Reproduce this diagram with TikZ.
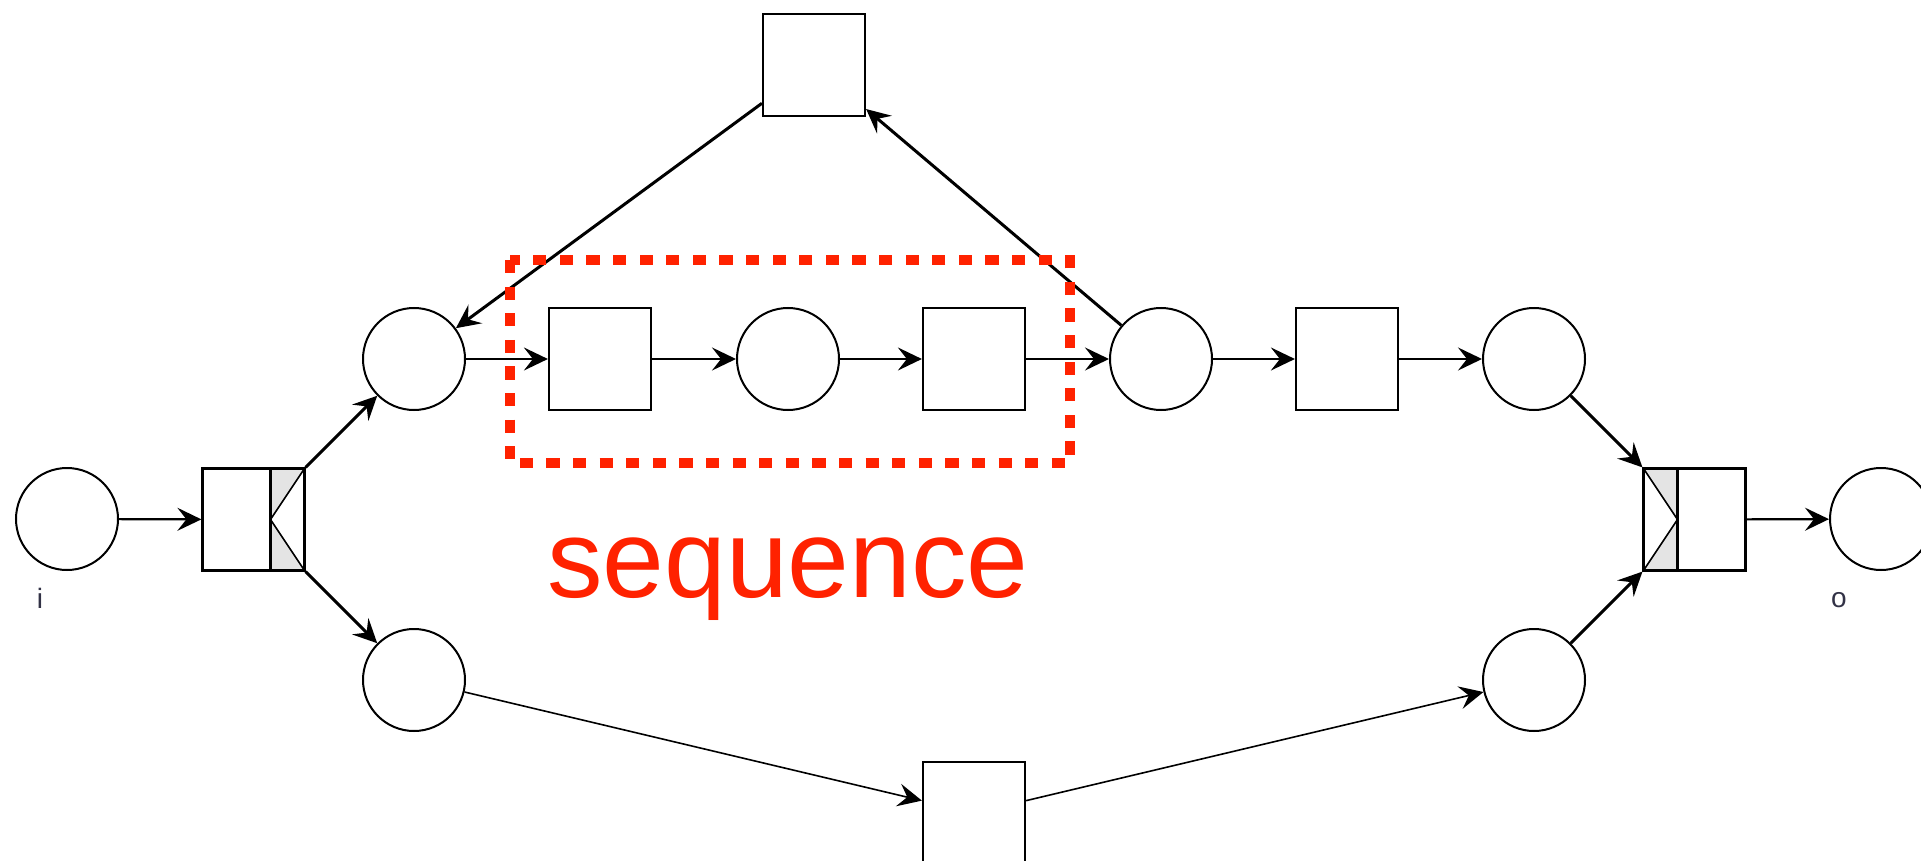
\documentclass[tikz,border=0pt]{standalone}
\usepackage{fontspec}
\setmainfont{Liberation Sans}
\usetikzlibrary{arrows.meta}
\definecolor{seqred}{RGB}{255,34,0}
\definecolor{andgray}{RGB}{228,228,228}
\definecolor{lblgray}{RGB}{50,50,70}

\begin{document}
\begin{tikzpicture}[x=0.5pt,y=-0.5pt,
  place/.style={circle,draw,line width=1pt,minimum size=51pt,inner sep=0pt},
  trans/.style={rectangle,draw,line width=1.1pt,minimum size=51pt,inner sep=0pt},
  andsplit/.style={trans,path picture={
    \fill[andgray] ([xshift=-17pt]path picture bounding box.north east) -- (path picture bounding box.north east) -- ([xshift=-17pt]path picture bounding box.east) -- cycle;
    \fill[andgray] ([xshift=-17pt]path picture bounding box.south east) -- (path picture bounding box.south east) -- ([xshift=-17pt]path picture bounding box.east) -- cycle;
    \draw[line width=1.1pt] ([xshift=-17pt]path picture bounding box.north east) -- ([xshift=-17pt]path picture bounding box.south east);
    \draw[line width=0.8pt] (path picture bounding box.north east) -- ([xshift=-17pt]path picture bounding box.east) -- (path picture bounding box.south east);}},
  andjoin/.style={trans,path picture={
    \fill[andgray] ([xshift=17pt]path picture bounding box.north west) -- (path picture bounding box.north west) -- ([xshift=17pt]path picture bounding box.west) -- cycle;
    \fill[andgray] ([xshift=17pt]path picture bounding box.south west) -- (path picture bounding box.south west) -- ([xshift=17pt]path picture bounding box.west) -- cycle;
    \draw[line width=1.1pt] ([xshift=17pt]path picture bounding box.north west) -- ([xshift=17pt]path picture bounding box.south west);
    \draw[line width=0.8pt] (path picture bounding box.north west) -- ([xshift=17pt]path picture bounding box.west) -- (path picture bounding box.south west);}},
  arc/.style={line width=1.1pt,-{Stealth[length=12pt,width=11.5pt,inset=4.5pt]}},
  heavyarc/.style={arc,line width=1.5pt},
  lightarc/.style={arc,line width=0.8pt},
  lbl/.style={text=lblgray,font=\fontsize{14pt}{16pt}\selectfont,inner sep=0pt},
  seqframe/.style={draw=seqred,line width=5pt,dash pattern=on 6.6pt off 6.7pt},
  seqlabel/.style={text=seqred,font=\fontsize{55.5pt}{60pt}\selectfont,inner sep=0pt}]
\useasboundingbox (0,0) rectangle (1921,861);

\node[place] (i) at (67,519) {};
\node[andsplit] (split) at (253.5,519.5) {};
\node[place] (p1) at (414,359) {};
\node[trans] (a) at (600,359) {};
\node[place] (p2) at (788,359) {};
\node[trans] (b) at (974,359) {};
\node[place] (p3) at (1161,359) {};
\node[trans] (c) at (1347,359) {};
\node[place] (p4) at (1534,359) {};
\node[trans] (t) at (814,65) {};
\node[place] (p5) at (414,680) {};
\node[trans] (d) at (974,813) {};
\node[place] (p6) at (1534,680) {};
\node[andjoin] (join) at (1694.5,519.5) {};
\node[place] (o) at (1881,519) {};
\node[lbl] (ilabel) at (40,598) {i};
\node[lbl] (olabel) at (1839,600) {o};

\draw[arc] (i) -- (split);
\draw[heavyarc] (split) -- (p1);
\draw[heavyarc] (split) -- (p5);
\draw[arc] (p1) -- (a);
\draw[arc] (a) -- (p2);
\draw[arc] (p2) -- (b);
\draw[arc] (b) -- (p3);
\draw[arc] (p3) -- (c);
\draw[arc] (c) -- (p4);
\draw[heavyarc] (p3) -- (t);
\draw[heavyarc] (t) -- (p1);
\draw[heavyarc] (p4) -- (join);
\draw[heavyarc] (p6) -- (join);
\draw[lightarc] (p5) -- (d);
\draw[lightarc] (d) -- (p6);
\draw[arc] (join) -- (o);

\draw[seqframe] (510,260) rectangle (1070,463);
\node[seqlabel,anchor=base] (seqtext) at (788,597) {sequence};
\end{tikzpicture}
\end{document}
